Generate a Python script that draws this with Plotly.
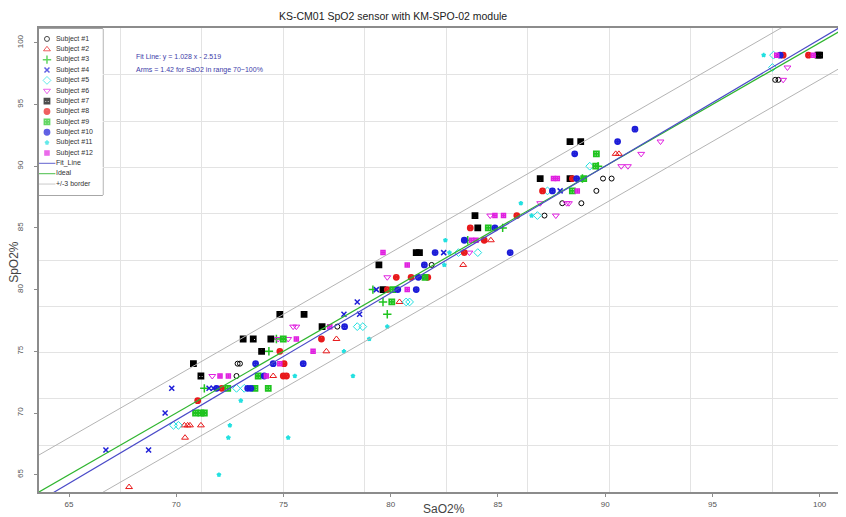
import plotly.graph_objects as go

# SaO2% (x) y SpO2% (y) por sujeto
s1_x = [72.81, 72.86, 72.97, 77.51, 81.91, 87.17, 88.0, 88.89, 89.59, 89.9, 90.3, 97.93, 98.08]
s1_y = [73, 74, 74, 77, 82, 86, 87, 87, 88, 89, 89, 97, 97]
s2_x = [67.8, 70.41, 70.38, 70.53, 70.64, 71.15, 74.52, 77.0, 77.47, 80.41, 83.38, 84.67, 90.49, 90.64]
s2_y = [64, 68, 69, 69, 69, 69, 73, 75, 76, 79, 82, 84, 91, 91]
s3_x = [71.31, 74.32, 74.67, 79.17, 79.64, 79.84, 83.59, 85.22, 88.94, 89.67]
s3_y = [72, 75, 76, 80, 79, 78, 84, 85, 89, 90]
s4_x = [66.72, 68.71, 69.48, 69.79, 71.53, 71.73, 77.82, 78.55, 78.44, 79.33, 81.45, 82.47, 87.9]
s4_y = [67, 67, 70, 72, 72, 72, 78, 78, 79, 80, 81, 83, 88]
s5_x = [69.87, 70.1, 72.81, 73.17, 78.44, 78.7, 80.72, 80.88, 83.16, 84.06, 86.84, 87.31, 89.28, 97.8, 97.85]
s5_y = [69, 69, 72, 72, 77, 77, 79, 79, 83, 83, 86, 88, 90, 98, 99]
s6_x = [71.68, 74.75, 75.22, 75.45, 75.6, 79.84, 83.67, 84.64, 86.97, 87.7, 88.21, 88.31, 90.75, 91.06, 91.68, 92.58, 98.3, 98.5]
s6_y = [73, 76, 76, 77, 77, 81, 83, 86, 87, 86, 87, 87, 90, 90, 91, 92, 97, 98]
s7_x = [70.8, 71.15, 73.12, 73.59, 74.41, 73.98, 74.83, 75.96, 76.8, 79.45, 79.64, 81.19, 81.34, 84.06, 83.93, 86.97, 88.36, 88.36, 88.86, 99.93, 100.0]
s7_y = [74, 73, 76, 76, 76, 75, 78, 78, 77, 82, 80, 83, 83, 85, 86, 89, 89, 92, 92, 99, 99]
s8_x = [71.0, 72.12, 74.83, 74.99, 75.14, 75.03, 76.77, 79.84, 80.26, 80.95, 81.73, 83.43, 83.71, 84.36, 85.88, 87.08, 88.47, 98.3, 99.48]
s8_y = [71, 72, 75, 73, 73, 74, 76, 80, 81, 81, 81, 83, 85, 84, 86, 88, 89, 99, 99]
s9_x = [70.9, 71.15, 71.31, 72.4, 73.67, 74.29, 73.82, 74.99, 80.1, 80.05, 81.6, 84.55, 88.47, 89.0, 89.56, 89.59]
s9_y = [70, 70, 70, 72, 72, 72, 73, 76, 80, 79, 81, 85, 88, 89, 90, 91]
s10_x = [71.88, 73.33, 73.48, 73.7, 74.52, 75.92, 74.1, 77.85, 80.33, 81.19, 81.29, 81.57, 82.07, 85.57, 83.43, 84.86, 87.54, 88.67, 88.58, 90.58, 91.39, 98.16]
s10_y = [72, 72, 72, 74, 74, 74, 73, 77, 80, 80, 81, 82, 83, 83, 84, 85, 88, 89, 91, 92, 93, 99]
s11_x = [71.99, 72.43, 75.22, 72.5, 73.01, 75.53, 78.24, 77.82, 79.0, 79.84, 82.5, 82.74, 82.55, 86.07, 86.57, 97.39]
s11_y = [65, 68, 68, 69, 71, 73, 73, 75, 76, 77, 82, 83, 84, 87, 86, 99]
s12_x = [72.04, 72.43, 74.2, 74.83, 75.6, 76.38, 77.16, 79.64, 80.77, 80.77, 83.77, 83.98, 84.86, 85.26, 87.59, 87.77, 88.7, 98.0, 99.7]
s12_y = [73, 73, 73, 74, 76, 75, 77, 83, 82, 80, 84, 84, 86, 86, 89, 89, 88, 99, 99]

# recta de ajuste y rango de ejes
fit_a, fit_b = 1.028, -2.519
x_lim = [63.6, 101.6]

nombres = ['Subject #%d' % i for i in range(1, 13)] + ['Fit_Line', 'Ideal', '+/-3 border']
colores = ['black', '#e8191b', '#1fc41f', '#1d1dd8', '#22e0e0', '#e020e0'] * 2 + ['#4b4bc8', '#2fb52f', '#b4b4b4']
simbolos = ['circle-open', 'triangle-up-open', 'cross-thin-open', 'x-thin-open', 'diamond-open',
            'triangle-down-open', 'square-x-open', 'circle-x-open', 'square-cross-open',
            'circle-cross-open', 'star-open', 'square-cross-open',
            'line-ew-open', 'line-ew-open', 'line-ew-open']
tamanos = [5, 6, 6, 5, 6, 6, 5, 5, 5, 5, 3, 4, 12, 12, 12]
grosor = [1, 1, 1.5, 1.5, 1, 1, 1.8, 1.8, 1.8, 1.8, 1.5, 1.5, 1.3, 1.3, 1]

datos = [(s1_x, s1_y), (s2_x, s2_y), (s3_x, s3_y), (s4_x, s4_y), (s5_x, s5_y), (s6_x, s6_y),
         (s7_x, s7_y), (s8_x, s8_y), (s9_x, s9_y), (s10_x, s10_y), (s11_x, s11_y), (s12_x, s12_y)]

fig = go.Figure()

''' Puntos por sujeto'''
for i, (xs, ys) in enumerate(datos):
    fig.add_trace(go.Scatter(x=xs, y=ys, mode='markers', name=nombres[i],
                             marker=dict(symbol=simbolos[i], color=colores[i], size=tamanos[i],
                                         line=dict(color=colores[i], width=grosor[i]))))

''' Lineas: borde +/-3, ideal y ajuste'''
for d in (3, -3):
    fig.add_trace(go.Scatter(x=x_lim, y=[v + d for v in x_lim], mode='lines',
                             line=dict(color=colores[14], width=1)))
fig.add_trace(go.Scatter(x=x_lim, y=x_lim, mode='lines', line=dict(color=colores[13], width=1.2)))
fig.add_trace(go.Scatter(x=x_lim, y=[fit_a * v + fit_b for v in x_lim], mode='lines',
                         line=dict(color=colores[12], width=1.2)))

# traza vacia para que se dibujen los ejes de marcas superpuestos
fig.add_trace(go.Scatter(x=[], y=[], xaxis='x3', yaxis='y3', mode='markers'))

''' Leyenda dibujada en ejes auxiliares'''
idx = list(range(len(nombres)))
fig.add_trace(go.Scatter(x=[8] * len(idx), y=idx, xaxis='x2', yaxis='y2', mode='markers',
                         marker=dict(symbol=simbolos, color=colores, size=tamanos,
                                     line=dict(color=colores, width=grosor))))
fig.add_trace(go.Scatter(x=[17] * len(idx), y=idx, xaxis='x2', yaxis='y2', mode='text',
                         text=nombres, textposition='middle right',
                         textfont=dict(size=7, color='#333')))
fig.add_shape(type='rect', xref='x2 domain', yref='y2 domain', x0=0, x1=1, y0=0, y1=1,
              line=dict(color='#555', width=1), fillcolor='white', layer='below')

# ejes principales: solo rejilla (estilo grid() de R) y marco
rejilla = dict(tickmode='linear', showgrid=True, gridcolor='#e3e3e3', gridwidth=1,
               zeroline=False, showline=True, linecolor='#8c8c8c', linewidth=1.5,
               ticks='', showticklabels=False)
# ejes superpuestos: marcas y etiquetas
marcas = dict(tickmode='linear', tick0=65, dtick=5, showgrid=False, zeroline=False,
              showline=False, ticks='outside', ticklen=4, tickcolor='#8c8c8c',
              tickfont=dict(size=8, color='#555'))

# la pagina deja 8 px de margen: el lienzo se corre para compensar
fig.update_layout(
    width=846, height=517,
    margin=dict(l=29, r=8, t=20, b=33),
    plot_bgcolor='white', paper_bgcolor='white',
    font=dict(family='Liberation Sans, Arial, sans-serif', size=8, color='#444'),
    showlegend=False,
    xaxis=dict(rejilla, range=[63.6, 101.23], tick0=63.6, dtick=3.8, mirror=True),
    yaxis=dict(rejilla, range=[63.6, 101.2], tick0=63.65, dtick=3.75),
    xaxis3=dict(marcas, range=[63.6, 101.23], overlaying='x', anchor='y3', side='bottom'),
    yaxis3=dict(marcas, range=[63.6, 101.2], overlaying='y', anchor='x3', side='left',
                tickangle=-90, ticklabelstandoff=8),
    xaxis2=dict(domain=[0, 0.0791], range=[0, 64], anchor='y2', visible=False, fixedrange=True),
    yaxis2=dict(domain=[0.640, 0.998], range=[15.06, -0.965], anchor='x2', visible=False, fixedrange=True),
)

fig.add_annotation(text='KS-CM01 SpO2 sensor with KM-SPO-02 module', xref='paper', yref='paper',
                   x=0.439, y=1.042, xanchor='center', yanchor='top', showarrow=False,
                   borderpad=0, font=dict(size=10.5, color='#222'))
fig.add_annotation(text='Fit Line: y = 1.028 x - 2.519', xref='paper', yref='paper',
                   x=0.1174, y=0.9375, xanchor='left', yanchor='middle', showarrow=False,
                   font=dict(size=7, color='#3c3ca8'))
fig.add_annotation(text='Arms = 1.42 for SaO2 in range 70~100%', xref='paper', yref='paper',
                   x=0.1174, y=0.9095, xanchor='left', yanchor='middle', showarrow=False,
                   font=dict(size=7, color='#3c3ca8'))
fig.add_annotation(text='SaO2%', xref='paper', yref='paper', x=0.502, y=-0.036,
                   xanchor='center', yanchor='middle', showarrow=False,
                   font=dict(size=12, color='#444'))
fig.add_annotation(text='SpO2%', xref='paper', yref='paper', x=-0.031, y=0.496,
                   xanchor='center', yanchor='middle', showarrow=False, textangle=-90,
                   font=dict(size=12, color='#444'))

fig.write_html("out.html")
